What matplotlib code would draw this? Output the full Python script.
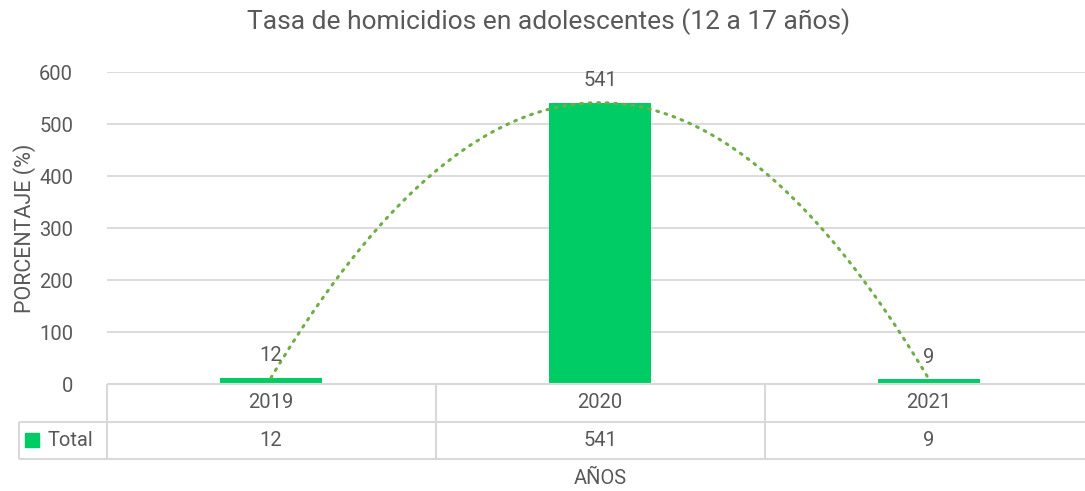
import numpy as np
import matplotlib.pyplot as plt

years = ['2019', '2020', '2021']
totals = [12, 541, 9]

bar_color = '#00CC66'
trend_color = '#70AD47'
grid_color = '#D9D9D9'
text_color = '#595959'

plt.rcParams['font.family'] = ['Roboto', 'DejaVu Sans']

W, H = 1085, 491
fig = plt.figure(figsize=(W / 100, H / 100), dpi=100)

def fx(px):
    return px / W

def fy(py):
    return 1 - py / H

left, right = 106.5, 1093.5
top, base = 72, 384
ax = fig.add_axes([fx(left), fy(base), fx(right - left), fy(top) - fy(base)])

x = np.arange(len(years))
ax.bar(x, totals, width=0.31, color=bar_color, zorder=2)

# polynomial (order 2) trendline
coef = np.polyfit(x, totals, 2)
xs = np.linspace(0, len(years) - 1, 200)
ax.plot(xs, np.polyval(coef, xs), color=trend_color, lw=2.2,
        linestyle=(0, (0.6, 2.2)), dash_capstyle='round', zorder=3)

for xi, v in zip(x, totals):
    ax.text(xi, v + 24, str(v), ha='center', va='bottom', fontsize=14.5,
            color=text_color, zorder=4)

ax.set_xlim(-0.5, len(years) - 0.5)
ax.set_ylim(0, 600)
ax.set_yticks(range(0, 601, 100))
ax.yaxis.grid(True, color=grid_color, lw=1.3)
ax.set_axisbelow(True)
ax.set_xticks([])
for s in ax.spines.values():
    s.set_visible(False)
ax.tick_params(axis='y', length=0, pad=24, labelsize=14.5, labelcolor=text_color)
ax.set_ylabel('PORCENTAJE (%)', fontsize=15.5, color=text_color, labelpad=2)

# data table below the plot
tab = fig.add_axes([fx(left), fy(459), fx(right - left), fy(384) - fy(459)])
tab.set_xlim(-0.5, len(years) - 0.5)
tab.set_ylim(0, 2)
tab.axis('off')
lx = -0.5 - (left - 19) / ((right - left) / len(years))
lk = dict(color=grid_color, lw=1.5, clip_on=False, solid_capstyle='butt')
tab.plot([-0.5, 2.5], [2, 2], **lk)
tab.plot([lx, 2.5], [1, 1], **lk)
tab.plot([lx, 2.5], [0, 0], **lk)
tab.plot([lx, lx], [0, 1], **lk)
for b in np.arange(-0.5, len(years) - 0.5):
    tab.plot([b, b], [0, 2], **lk)
for xi, yr, v in zip(x, years, totals):
    tab.text(xi, 1.5, yr, ha='center', va='center', fontsize=14.5, color=text_color)
    tab.text(xi, 0.5, str(v), ha='center', va='center', fontsize=14.5, color=text_color)
tab.scatter([lx + 0.038], [0.5], marker='s', s=110, color=bar_color, clip_on=False)
tab.text(lx + 0.087, 0.5, 'Total', ha='left', va='center', fontsize=14.5, color=text_color)

fig.text(fx(600), fy(478), 'AÑOS', ha='center', va='center', fontsize=14.5, color=text_color)
fig.text(fx(549), fy(22), 'Tasa de homicidios en adolescentes (12 a 17 años)',
         ha='center', va='center', fontsize=19, color=text_color)

fig.savefig('out.png', dpi=100)
